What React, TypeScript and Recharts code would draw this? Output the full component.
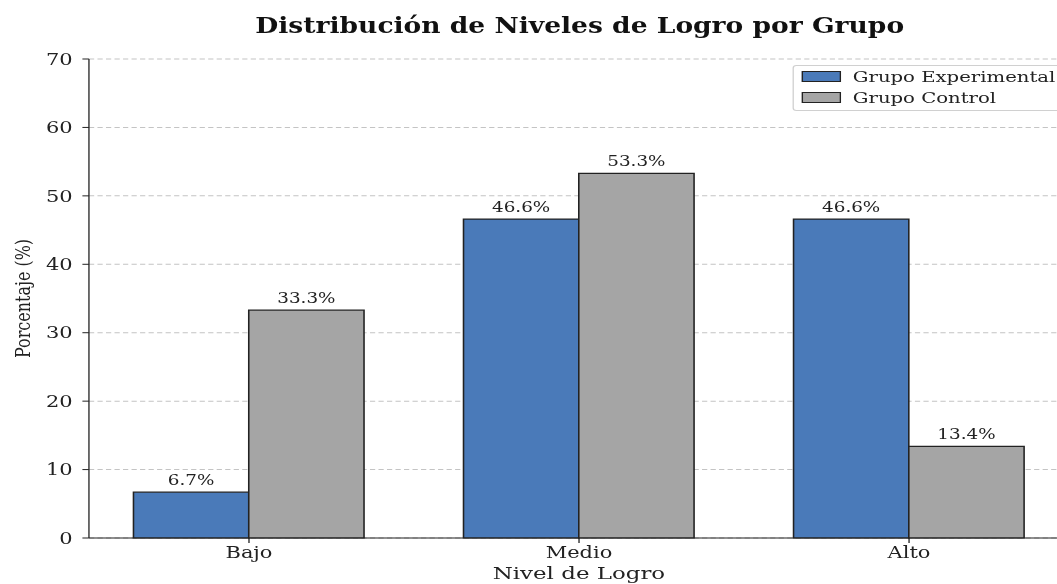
import { BarChart, Bar, XAxis, YAxis, CartesianGrid, LabelList } from 'recharts'

const CATEGORIES = ['Bajo', 'Medio', 'Alto']
const EXPERIMENTAL = [6.7, 46.6, 46.6]
const CONTROL = [33.3, 53.3, 13.4]
const Y_TICKS = [0, 10, 20, 30, 40, 50, 60, 70]

const SERIES = [
  { key: 'experimental', name: 'Grupo Experimental', color: '#4a7ab9' },
  { key: 'control', name: 'Grupo Control', color: '#a5a5a5' },
]

const FONT = "'DejaVu Serif', serif"
// the reference is stretched horizontally, so the whole chart is drawn narrow and scaled
const SX = 1.31

const data = CATEGORIES.map((nivel, i) => ({
  nivel,
  experimental: EXPERIMENTAL[i],
  control: CONTROL[i],
}))

export default function App() {
  const tick = { fontFamily: FONT, fontSize: 16, fill: '#222' }
  return (
    <div
      style={{
        position: 'absolute',
        left: 0,
        top: 0,
        width: 1057,
        height: 584,
        overflow: 'hidden',
        background: '#fff',
      }}
    >
      <div
        style={{
          position: 'relative',
          width: 824,
          height: 584,
          transform: `scaleX(${SX})`,
          transformOrigin: '0 0',
        }}
      >
        <div
          style={{
            position: 'absolute',
            left: 0,
            top: 14,
            width: 885,
            textAlign: 'center',
            fontFamily: FONT,
            fontWeight: 'bold',
            fontStretch: 'condensed',
            fontSize: 22.5,
            lineHeight: '22px',
            color: '#111',
          }}
        >
          Distribución de Niveles de Logro por Grupo
        </div>

        <BarChart
          width={824}
          height={584}
          data={data}
          margin={{ top: 59, right: 8, bottom: 0, left: 0 }}
          barCategoryGap="15%"
          barGap={0}
        >
          <CartesianGrid vertical={false} stroke="#c4c4c4" strokeDasharray="4 2.5" />
          <XAxis
            dataKey="nivel"
            height={46}
            padding={{ left: -3.8, right: -3.9 }}
            axisLine={{ stroke: '#222' }}
            tickLine={{ stroke: '#222' }}
            tickSize={5}
            tickMargin={4}
            tick={tick}
            label={{
              value: 'Nivel de Logro',
              position: 'insideBottom',
              offset: 4.5,
              style: { fontFamily: FONT, fontSize: 17.5, fill: '#222' },
            }}
          />
          <YAxis
            width={67.9}
            domain={[0, 70]}
            ticks={Y_TICKS}
            interval={0}
            axisLine={{ stroke: '#222' }}
            tickLine={{ stroke: '#222' }}
            tickSize={5}
            tickMargin={7.5}
            tick={tick}
            label={{
              value: 'Porcentaje (%)',
              angle: -90,
              position: 'insideLeft',
              offset: 17,
              style: { fontFamily: FONT, fontSize: 16, fill: '#222', textAnchor: 'middle' },
            }}
          />
          {SERIES.map((s) => (
            <Bar
              key={s.key}
              dataKey={s.key}
              name={s.name}
              fill={s.color}
              stroke="#222"
              strokeWidth={1.2}
              isAnimationActive={false}
            >
              <LabelList
                dataKey={s.key}
                position="top"
                offset={7}
                formatter={(v: number) => `${v.toFixed(1)}%`}
                style={{ fontFamily: FONT, fontSize: 14, fill: '#222' }}
              />
            </Bar>
          ))}
        </BarChart>

        <div
          style={{
            position: 'absolute',
            left: 605.3,
            top: 65,
            width: 230,
            padding: '0 0 2px 5.7px',
            border: '1px solid #d0d0d0',
            borderRadius: 3,
            background: 'rgba(255,255,255,0.85)',
            fontFamily: FONT,
            fontSize: 15,
            color: '#222',
          }}
        >
          {SERIES.map((s) => (
            <div key={s.key} style={{ display: 'flex', alignItems: 'center', height: 21 }}>
              <span
                style={{
                  display: 'inline-block',
                  width: 28,
                  height: 9,
                  background: s.color,
                  border: '1px solid #222',
                  marginRight: 9,
                }}
              />
              <span>{s.name}</span>
            </div>
          ))}
        </div>
      </div>
    </div>
  )
}
